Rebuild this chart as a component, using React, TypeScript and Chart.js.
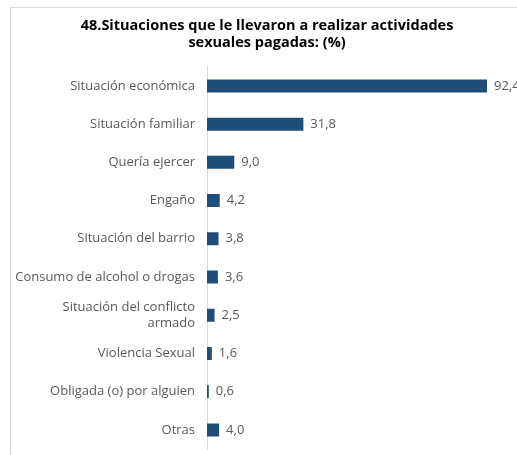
import React, { useEffect, useRef } from "react";
import { Chart, registerables } from "chart.js";

Chart.register(...registerables);

const categories: (string | string[])[] = [
  "Situación económica",
  "Situación familiar",
  "Quería ejercer",
  "Engaño",
  "Situación del barrio",
  "Consumo de alcohol o drogas",
  ["Situación del conflicto", "armado"],
  "Violencia Sexual",
  "Obligada (o) por alguien",
  "Otras",
];
const values: number[] = [92.4, 31.8, 9.0, 4.2, 3.8, 3.6, 2.5, 1.6, 0.6, 4.0];
const titleLines: string[] = [
  "48.Situaciones que le llevaron a realizar actividades",
  "sexuales pagadas: (%)",
];

const FONT = "'Open Sans', 'DejaVu Sans', sans-serif";
const GRAY = "#595959";

const valueLabels = {
  id: "valueLabels",
  afterDatasetsDraw(chart: any) {
    const ctx = chart.ctx;
    const meta = chart.getDatasetMeta(0);
    ctx.save();
    ctx.font = `13px ${FONT}`;
    ctx.fillStyle = GRAY;
    ctx.textAlign = "left";
    ctx.textBaseline = "middle";
    meta.data.forEach((bar: any, i: number) => {
      const txt = values[i].toFixed(1).replace(".", ",");
      ctx.fillText(txt, bar.x + 7, bar.y);
    });
    ctx.restore();
  },
};

export default function App() {
  const ref = useRef<HTMLCanvasElement | null>(null);
  useEffect(() => {
    if (!ref.current) return;
    const chart = new Chart(ref.current, {
      type: "bar",
      data: {
        labels: categories,
        datasets: [
          {
            data: values,
            backgroundColor: "#1F4E79",
            borderWidth: 0,
            barPercentage: 0.68,
            categoryPercentage: 0.5,
          },
        ],
      },
      options: {
        indexAxis: "y",
        responsive: false,
        animation: false,
        layout: { padding: { top: 9, left: 10, right: -7, bottom: 6 } },
        plugins: {
          legend: { display: false },
          tooltip: { enabled: false },
          title: {
            display: true,
            text: titleLines,
            color: "#000000",
            font: { family: FONT, size: 14.5, weight: "bold", lineHeight: 1.2 },
            padding: { top: 8, bottom: 15 },
          },
        },
        scales: {
          x: {
            display: false,
            min: 0,
            max: 102.3,
          },
          y: {
            afterFit(scale: any) {
              scale.width = 197;
              scale.paddingTop = 0;
              scale.paddingBottom = 0;
            },
            grid: { display: false, drawTicks: false },
            border: { display: true, color: "#D9D9D9", width: 1 },
            ticks: {
              color: GRAY,
              padding: 12,
              font: { family: FONT, size: 13 },
            },
          },
        },
      },
      plugins: [valueLabels],
    });
    return () => chart.destroy();
  }, []);
  return (
    <div style={{ position: "absolute", left: 0, top: 0, width: 517, height: 455, background: "#fff" }}>
      <div
        style={{
          position: "absolute",
          left: 10,
          top: 7,
          width: 520,
          height: 460,
          border: "1px solid #D9D9D9",
          boxSizing: "border-box",
        }}
      />
      <canvas ref={ref} width={517} height={455} style={{ position: "absolute", left: 0, top: 0 }} />
    </div>
  );
}
